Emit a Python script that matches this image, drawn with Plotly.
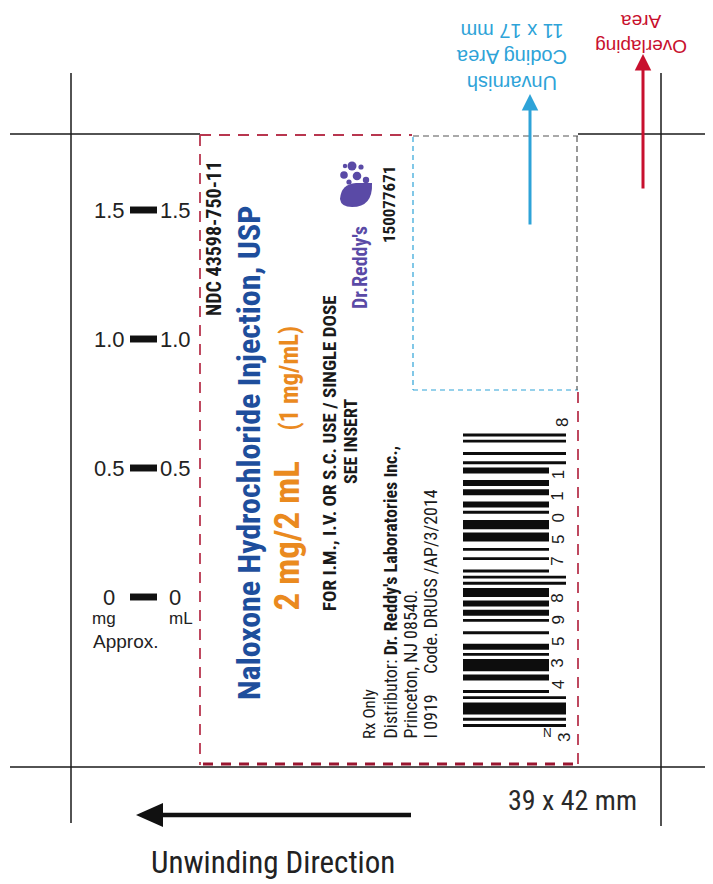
import plotly.graph_objects as go

# page is rendered with an 8px body margin, so the figure covers page pixels 8..713 / 8..884
PAD = 8
W, H = 713, 884

# ---------------- data ----------------
scale_values = [1.5, 1.0, 0.5, 0.0]
scale_labels_mg = ["1.5", "1.0", "0.5", "0"]
scale_labels_ml = ["1.5", "1.0", "0.5", "0"]

upc_digits = "343598750118"

ndc_text = "NDC 43598-750-11"
title_text = "Naloxone Hydrochloride Injection, USP"
strength_main = "2 mg/2 mL"
strength_sub = "(1 mg/mL)"
route_text = "FOR I.M., I.V. OR S.C. USE / SINGLE DOSE"
insert_text = "SEE INSERT"
brand_text = "Dr.Reddy's"
item_code = "150077671"
rx_text = "Rx Only"
distributor_text = "Distributor: <b>Dr. Reddy's Laboratories Inc.,</b>"
city_text = "Princeton, NJ 08540."
code_text = "I 0919&nbsp;&nbsp;&nbsp;&nbsp;&nbsp;Code. DRUGS /AP/3/2014"
coding_area_lines = ["Unvarnish", "Coding Area", "11 x 17 mm"]
overlap_lines = ["Overlaping", "Area"]
size_text = "39 x 42 mm"
unwind_text = "Unwinding Direction"

# ---------------- styles ----------------
COND = "'Roboto Condensed', 'DejaVu Sans Condensed', sans-serif"
SANS = "'Liberation Sans', Arial, sans-serif"
BLUE = "#1e4e9c"
ORANGE = "#ea8a1f"
PURPLE = "#5a4aa6"
CYAN = "#2ea3d8"
RED = "#c8102e"
DASHRED = "#b8364f"
INK = "#1a1a1a"

fig = go.Figure()
shapes = []
ann = []


def line(x0, y0, x1, y1, color=INK, width=1.5, dash="solid"):
    shapes.append(dict(type="line", xref="x", yref="y", x0=x0, y0=y0, x1=x1, y1=y1,
                       line=dict(color=color, width=width, dash=dash)))


def text(x, y, s, size, color=INK, family=COND, angle=0, xa="center", ya="middle",
         bold=False, align="center", ref="y"):
    if bold:
        s = "<b>" + s + "</b>"
    ann.append(dict(x=x, y=y, xref="x", yref=ref, text=s, showarrow=False,
                    textangle=angle, xanchor=xa, yanchor=ya, align=align,
                    font=dict(size=size, color=color, family=family)))


# ---------------- frame lines ----------------
line(10, 134, 200, 134)
line(578, 134, 713, 134)
line(10, 767, 713, 767)
line(71, 73, 71, 823)
line(661, 73, 661, 826)

# red dashed die line
line(200, 135, 412, 135, DASHRED, 2, "11px,8px")
line(200, 135, 200, 765, DASHRED, 1.8, "11px,8px")
line(578, 392, 578, 765, DASHRED, 1.8, "11px,8px")
line(203, 764, 578, 764, "#9a1630", 3.2, "10px,8px")

# cyan unvarnish coding area box
line(413, 136, 578, 136, "#555555", 1.2, "6px,4px")
line(413, 137, 413, 390, CYAN, 1.2, "5px,4px")
line(413, 390, 578, 390, CYAN, 1.2, "5px,4px")
line(577, 136, 577, 390, "#555555", 1.2, "6px,4px")

# arrows
ann.append(dict(x=530, y=94, ax=530, ay=226, xref="x", yref="y", axref="x", ayref="y",
                text="", showarrow=True, arrowhead=2, arrowsize=1.1, arrowwidth=3,
                arrowcolor=CYAN))
ann.append(dict(x=643, y=54, ax=643, ay=190, xref="x", yref="y", axref="x", ayref="y",
                text="", showarrow=True, arrowhead=2, arrowsize=1.1, arrowwidth=3,
                arrowcolor=RED))

# upside-down notes
text(512, 57, "<br>".join(coding_area_lines), 20, CYAN, SANS, 180)
text(641, 34, "<br>".join(overlap_lines), 19, RED, SANS, 180)

# ---------------- scale (own axis y2) ----------------
for v, lm, ll in zip(scale_values, scale_labels_mg, scale_labels_ml):
    shapes.append(dict(type="rect", xref="x", yref="y2", x0=130, x1=157,
                       y0=v - 0.0135, y1=v + 0.0135, line=dict(width=0),
                       fillcolor="#111111"))
    text(109, v, lm, 22, "#222222", SANS, ref="y2")
    text(175, v, ll, 22, "#222222", SANS, ref="y2")
text(104, 618, "mg", 17, "#222222", SANS)
text(181, 618, "mL", 17, "#222222", SANS)
text(125, 641, "Approx.", 19, "#222222", SANS)

# ---------------- label texts (rotated) ----------------
text(214, 239, ndc_text, 20, INK, COND, -90, bold=True)
text(249, 453, title_text, 32, BLUE, COND, -90, bold=True)
text(287, 613, strength_main, 35, ORANGE, COND, -90, ya="bottom", bold=True)
text(289, 433, strength_sub, 25, ORANGE, COND, -90, ya="bottom", bold=True)
text(329, 453, route_text, 19, INK, COND, -90, bold=True)
text(350, 442, insert_text, 18, INK, COND, -90, bold=True)
text(360, 268, brand_text, 20, PURPLE, COND, -90, bold=True)
text(389, 205, item_code, 17, INK, COND, -90, bold=True)
text(369, 741, rx_text, 17, INK, COND, -90, ya="bottom")
text(390, 741, distributor_text, 18, INK, COND, -90, ya="bottom")
text(410, 741, city_text, 18, INK, COND, -90, ya="bottom")
text(430, 741, code_text, 18, INK, COND, -90, ya="bottom")

# Dr. Reddy's logo (bowl + bubbles)
shapes.append(dict(type="path", xref="x", yref="y",
                   path="M 340,199 Q 341,184 356,183 L 372,183 Q 373,207 352,207 Q 341,207 340,199 Z",
                   fillcolor=PURPLE, line=dict(width=0)))
for cx, cy, r in [(352, 166, 4.5), (344, 175, 3.8), (357, 176, 4.3), (366, 180, 3.2),
                  (349, 182, 2.6), (361, 167, 2.6), (345, 166, 2.2)]:
    shapes.append(dict(type="circle", xref="x", yref="y", x0=cx - r, x1=cx + r,
                       y0=cy - r, y1=cy + r, fillcolor=PURPLE, line=dict(width=0)))

# ---------------- UPC-A barcode ----------------
L = {'0': '0001101', '1': '0011001', '2': '0010011', '3': '0111101', '4': '0100011',
     '5': '0110001', '6': '0101111', '7': '0111011', '8': '0110111', '9': '0001011'}
Rc = {k: ''.join('1' if c == '0' else '0' for c in v) for k, v in L.items()}
modules = ('101' + ''.join(L[d] for d in upc_digits[:6]) + '01010'
           + ''.join(Rc[d] for d in upc_digits[6:]) + '101')

Y0, MW = 727.0, 3.09
XB0, XS, XL = 463, 549, 566


def is_long(m):
    return m <= 9 or 45 <= m <= 49 or m >= 85


m = 0
while m < len(modules):
    if modules[m] == '1':
        s = m
        while m < len(modules) and modules[m] == '1' and is_long(m) == is_long(s):
            m += 1
        shapes.append(dict(type="rect", xref="x", yref="y", x0=XB0,
                           x1=XL if is_long(s) else XS,
                           y0=Y0 - m * MW + 0.1, y1=Y0 - s * MW - 0.1,
                           fillcolor="#0d0d0d", line=dict(width=0)))
    else:
        m += 1

# human-readable digits
text(564, 738, upc_digits[0], 17, INK, SANS, -90)
for i, d in enumerate(upc_digits[1:6]):
    text(558, Y0 - (3 + 7 * (i + 1) + 3.5) * MW, d, 17, INK, SANS, -90)
for j, d in enumerate(upc_digits[6:11]):
    text(558, Y0 - (50 + 7 * j + 3.5) * MW, d, 17, INK, SANS, -90)
text(562, 423, upc_digits[11], 17, INK, SANS, -90)
text(547, 733, "N", 12, INK, SANS)

# ---------------- outside notes ----------------
text(572, 800, size_text, 28, "#2a2a2a", COND)
line(160, 815, 411, 815, "#111111", 4.5)
shapes.append(dict(type="path", xref="x", yref="y",
                   path="M 136,815 L 163,803 L 163,827 Z", fillcolor="#111111",
                   line=dict(width=0)))
text(273, 862, unwind_text, 31, "#222222", COND)

# ---------------- layout ----------------
fig.add_trace(go.Scatter(x=[PAD, W], y=[PAD, H], mode="markers", marker=dict(opacity=0),
                         hoverinfo="skip", showlegend=False))
px_per_unit = 387 / 1.5
fig.update_layout(
    width=W - PAD, height=H - PAD, margin=dict(l=0, r=0, t=0, b=0),
    paper_bgcolor="white", plot_bgcolor="white", showlegend=False,
    xaxis=dict(range=[PAD, W], visible=False, fixedrange=True),
    yaxis=dict(range=[H, PAD], visible=False, fixedrange=True),
    yaxis2=dict(range=[-(H - 597) / px_per_unit, (597 - PAD) / px_per_unit],
                overlaying="y", visible=False, fixedrange=True),
    shapes=shapes, annotations=ann,
)
fig.write_html("out.html")
